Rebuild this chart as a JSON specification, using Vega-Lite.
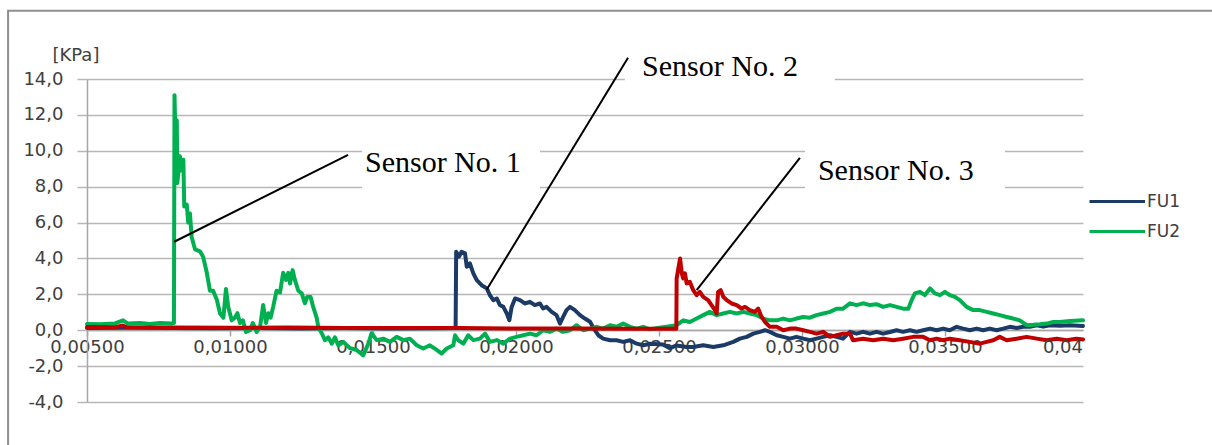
{
  "$schema": "https://vega.github.io/schema/vega-lite/v6.json",
  "width": 996,
  "height": 323,
  "autosize": {"type": "none"},
  "padding": {"left": 87, "top": 79, "right": 129, "bottom": 43},
  "background": "white",
  "config": {"view": {"stroke": null}, "font": "DejaVu Sans"},
  "datasets": {
    "series": [
      {"s":"FU1","x":0.005,"y":0.12},{"s":"FU1","x":0.0065,"y":0.14},{"s":"FU1","x":0.008,"y":0.13},{"s":"FU1","x":0.0095,"y":0.11},{"s":"FU1","x":0.011,"y":0.12},{"s":"FU1","x":0.0125,"y":0.1},{"s":"FU1","x":0.014,"y":0.12},{"s":"FU1","x":0.0155,"y":0.1},{"s":"FU1","x":0.017,"y":0.11},{"s":"FU1","x":0.01789,"y":0.12},
      {"s":"FU1","x":0.01791,"y":4.37},{"s":"FU1","x":0.01801,"y":4.1},{"s":"FU1","x":0.0181,"y":4.37},{"s":"FU1","x":0.01822,"y":4.28},{"s":"FU1","x":0.01828,"y":3.54},{"s":"FU1","x":0.01839,"y":3.72},{"s":"FU1","x":0.01851,"y":3.17},{"s":"FU1","x":0.01863,"y":2.79},{"s":"FU1","x":0.0188,"y":2.51},{"s":"FU1","x":0.01898,"y":2.33},{"s":"FU1","x":0.01909,"y":1.95},{"s":"FU1","x":0.01921,"y":1.68},{"s":"FU1","x":0.01933,"y":1.77},{"s":"FU1","x":0.01944,"y":1.4},{"s":"FU1","x":0.01956,"y":1.3},{"s":"FU1","x":0.01968,"y":0.93},{"s":"FU1","x":0.01977,"y":0.56},{"s":"FU1","x":0.01985,"y":1.3},{"s":"FU1","x":0.01997,"y":1.77},{"s":"FU1","x":0.02014,"y":1.68},{"s":"FU1","x":0.02031,"y":1.49},{"s":"FU1","x":0.02049,"y":1.58},{"s":"FU1","x":0.02066,"y":1.4},{"s":"FU1","x":0.02084,"y":1.49},{"s":"FU1","x":0.02095,"y":1.21},{"s":"FU1","x":0.02107,"y":1.3},{"s":"FU1","x":0.02125,"y":1.02},{"s":"FU1","x":0.02142,"y":0.84},{"s":"FU1","x":0.02154,"y":0.37},{"s":"FU1","x":0.02165,"y":0.74},{"s":"FU1","x":0.02177,"y":1.12},{"s":"FU1","x":0.02189,"y":1.3},{"s":"FU1","x":0.02206,"y":1.12},{"s":"FU1","x":0.02224,"y":0.84},{"s":"FU1","x":0.02241,"y":0.65},{"s":"FU1","x":0.02259,"y":0.47},{"s":"FU1","x":0.02276,"y":0.0},{"s":"FU1","x":0.02288,"y":-0.28},{"s":"FU1","x":0.02305,"y":-0.47},{"s":"FU1","x":0.02329,"y":-0.56},{"s":"FU1","x":0.02352,"y":-0.56},{"s":"FU1","x":0.02375,"y":-0.65},{"s":"FU1","x":0.02399,"y":-0.56},{"s":"FU1","x":0.02422,"y":-0.75},{"s":"FU1","x":0.02445,"y":-0.84},{"s":"FU1","x":0.02469,"y":-0.75},{"s":"FU1","x":0.02514,"y":-0.8},{"s":"FU1","x":0.02538,"y":-1.0},{"s":"FU1","x":0.02562,"y":-0.85},{"s":"FU1","x":0.02597,"y":-0.93},{"s":"FU1","x":0.0262,"y":-0.93},{"s":"FU1","x":0.02655,"y":-0.84},{"s":"FU1","x":0.0269,"y":-0.93},{"s":"FU1","x":0.02725,"y":-0.84},{"s":"FU1","x":0.0276,"y":-0.65},{"s":"FU1","x":0.02783,"y":-0.47},{"s":"FU1","x":0.02807,"y":-0.37},{"s":"FU1","x":0.0283,"y":-0.19},{"s":"FU1","x":0.02853,"y":-0.09},{"s":"FU1","x":0.02871,"y":0.0},{"s":"FU1","x":0.02888,"y":-0.09},{"s":"FU1","x":0.02912,"y":-0.28},{"s":"FU1","x":0.02935,"y":-0.37},{"s":"FU1","x":0.02958,"y":-0.47},{"s":"FU1","x":0.02981,"y":-0.37},{"s":"FU1","x":0.03005,"y":-0.47},{"s":"FU1","x":0.03028,"y":-0.56},{"s":"FU1","x":0.03051,"y":-0.47},{"s":"FU1","x":0.03075,"y":-0.37},{"s":"FU1","x":0.03098,"y":-0.28},{"s":"FU1","x":0.03121,"y":-0.37},{"s":"FU1","x":0.03144,"y":-0.47},{"s":"FU1","x":0.03168,"y":-0.09},{"s":"FU1","x":0.03191,"y":-0.19},{"s":"FU1","x":0.03214,"y":-0.09},{"s":"FU1","x":0.03238,"y":-0.19},{"s":"FU1","x":0.03261,"y":-0.09},{"s":"FU1","x":0.03284,"y":-0.19},{"s":"FU1","x":0.03308,"y":-0.1},{"s":"FU1","x":0.03331,"y":0.0},{"s":"FU1","x":0.03354,"y":-0.09},{"s":"FU1","x":0.03378,"y":0.0},{"s":"FU1","x":0.03401,"y":-0.09},{"s":"FU1","x":0.03424,"y":0.0},{"s":"FU1","x":0.03448,"y":0.09},{"s":"FU1","x":0.03471,"y":0.0},{"s":"FU1","x":0.03494,"y":0.09},{"s":"FU1","x":0.03517,"y":0.0},{"s":"FU1","x":0.03541,"y":0.19},{"s":"FU1","x":0.03564,"y":0.09},{"s":"FU1","x":0.03587,"y":0.0},{"s":"FU1","x":0.03611,"y":0.09},{"s":"FU1","x":0.03634,"y":0.0},{"s":"FU1","x":0.03657,"y":0.09},{"s":"FU1","x":0.03681,"y":0.0},{"s":"FU1","x":0.03704,"y":0.09},{"s":"FU1","x":0.03727,"y":0.19},{"s":"FU1","x":0.03751,"y":0.12},{"s":"FU1","x":0.03774,"y":0.19},{"s":"FU1","x":0.03797,"y":0.19},{"s":"FU1","x":0.03821,"y":0.28},{"s":"FU1","x":0.03844,"y":0.2},{"s":"FU1","x":0.03867,"y":0.28},{"s":"FU1","x":0.03902,"y":0.25},{"s":"FU1","x":0.03937,"y":0.28},{"s":"FU1","x":0.03983,"y":0.24},

      {"s":"FU2","x":0.005,"y":0.35},{"s":"FU2","x":0.00545,"y":0.33},{"s":"FU2","x":0.00598,"y":0.38},{"s":"FU2","x":0.00626,"y":0.55},{"s":"FU2","x":0.00643,"y":0.37},{"s":"FU2","x":0.00685,"y":0.4},{"s":"FU2","x":0.0072,"y":0.35},{"s":"FU2","x":0.00755,"y":0.4},{"s":"FU2","x":0.00797,"y":0.38},{"s":"FU2","x":0.00804,"y":0.4},
      {"s":"FU2","x":0.00806,"y":13.1},{"s":"FU2","x":0.00811,"y":9.5},{"s":"FU2","x":0.00814,"y":11.7},{"s":"FU2","x":0.00816,"y":8.2},{"s":"FU2","x":0.00825,"y":9.7},{"s":"FU2","x":0.00831,"y":8.9},{"s":"FU2","x":0.00837,"y":9.5},{"s":"FU2","x":0.0084,"y":6.9},{"s":"FU2","x":0.00849,"y":7.0},{"s":"FU2","x":0.00854,"y":6.0},{"s":"FU2","x":0.0086,"y":6.5},{"s":"FU2","x":0.00866,"y":5.2},{"s":"FU2","x":0.00878,"y":4.5},{"s":"FU2","x":0.00895,"y":4.4},{"s":"FU2","x":0.00906,"y":4.1},{"s":"FU2","x":0.00919,"y":3.2},{"s":"FU2","x":0.0093,"y":2.2},{"s":"FU2","x":0.00941,"y":2.2},{"s":"FU2","x":0.00954,"y":1.7},{"s":"FU2","x":0.00965,"y":0.95},{"s":"FU2","x":0.00977,"y":0.7},{"s":"FU2","x":0.00986,"y":2.3},{"s":"FU2","x":0.00994,"y":1.3},{"s":"FU2","x":0.01006,"y":0.55},{"s":"FU2","x":0.01017,"y":0.7},{"s":"FU2","x":0.01026,"y":0.95},{"s":"FU2","x":0.01035,"y":0.4},{"s":"FU2","x":0.01045,"y":0.55},{"s":"FU2","x":0.01056,"y":-0.1},{"s":"FU2","x":0.0107,"y":0.0},{"s":"FU2","x":0.0108,"y":0.4},{"s":"FU2","x":0.01093,"y":-0.1},{"s":"FU2","x":0.01105,"y":0.17},{"s":"FU2","x":0.01116,"y":1.4},{"s":"FU2","x":0.01126,"y":0.4},{"s":"FU2","x":0.01134,"y":0.95},{"s":"FU2","x":0.01142,"y":0.7},{"s":"FU2","x":0.01151,"y":1.3},{"s":"FU2","x":0.01163,"y":2.2},{"s":"FU2","x":0.01175,"y":2.1},{"s":"FU2","x":0.01186,"y":3.2},{"s":"FU2","x":0.01196,"y":2.8},{"s":"FU2","x":0.01204,"y":3.2},{"s":"FU2","x":0.0121,"y":2.6},{"s":"FU2","x":0.01219,"y":3.35},{"s":"FU2","x":0.01227,"y":2.8},{"s":"FU2","x":0.01239,"y":2.2},{"s":"FU2","x":0.01251,"y":2.05},{"s":"FU2","x":0.01262,"y":1.5},{"s":"FU2","x":0.0127,"y":1.85},{"s":"FU2","x":0.01282,"y":1.85},{"s":"FU2","x":0.01291,"y":1.3},{"s":"FU2","x":0.01303,"y":0.7},{"s":"FU2","x":0.01309,"y":0.17},{"s":"FU2","x":0.01321,"y":-0.17},{"s":"FU2","x":0.01332,"y":-0.55},{"s":"FU2","x":0.01344,"y":-0.4},{"s":"FU2","x":0.01356,"y":-0.75},{"s":"FU2","x":0.01367,"y":-0.4},{"s":"FU2","x":0.01379,"y":-0.85},{"s":"FU2","x":0.01396,"y":-0.65},{"s":"FU2","x":0.0142,"y":-1.0},{"s":"FU2","x":0.01443,"y":-1.1},{"s":"FU2","x":0.01466,"y":-1.4},{"s":"FU2","x":0.01484,"y":-0.75},{"s":"FU2","x":0.01495,"y":-0.17},{"s":"FU2","x":0.01513,"y":-0.55},{"s":"FU2","x":0.01536,"y":-0.47},{"s":"FU2","x":0.01559,"y":-0.65},{"s":"FU2","x":0.01583,"y":-0.37},{"s":"FU2","x":0.01606,"y":-0.55},{"s":"FU2","x":0.01629,"y":-0.47},{"s":"FU2","x":0.01653,"y":-0.84},{"s":"FU2","x":0.01676,"y":-1.02},{"s":"FU2","x":0.01699,"y":-0.84},{"s":"FU2","x":0.01723,"y":-1.1},{"s":"FU2","x":0.0174,"y":-1.3},{"s":"FU2","x":0.01758,"y":-1.02},{"s":"FU2","x":0.01781,"y":-0.84},{"s":"FU2","x":0.01787,"y":-0.28},{"s":"FU2","x":0.01798,"y":-0.55},{"s":"FU2","x":0.01816,"y":-0.75},{"s":"FU2","x":0.01833,"y":-0.28},{"s":"FU2","x":0.01851,"y":-0.55},{"s":"FU2","x":0.01874,"y":-0.47},{"s":"FU2","x":0.01892,"y":-0.19},{"s":"FU2","x":0.01909,"y":-0.65},{"s":"FU2","x":0.01933,"y":-0.55},{"s":"FU2","x":0.01956,"y":-0.75},{"s":"FU2","x":0.01979,"y":-0.47},{"s":"FU2","x":0.02002,"y":-0.37},{"s":"FU2","x":0.02026,"y":-0.28},{"s":"FU2","x":0.02049,"y":-0.19},{"s":"FU2","x":0.02072,"y":-0.28},{"s":"FU2","x":0.02095,"y":0.0},{"s":"FU2","x":0.02119,"y":-0.09},{"s":"FU2","x":0.02142,"y":0.09},{"s":"FU2","x":0.02165,"y":-0.09},{"s":"FU2","x":0.02189,"y":0.0},{"s":"FU2","x":0.02212,"y":0.28},{"s":"FU2","x":0.02235,"y":0.0},{"s":"FU2","x":0.02259,"y":0.09},{"s":"FU2","x":0.02282,"y":0.19},{"s":"FU2","x":0.02305,"y":0.09},{"s":"FU2","x":0.02329,"y":0.28},{"s":"FU2","x":0.02352,"y":0.19},{"s":"FU2","x":0.02375,"y":0.37},{"s":"FU2","x":0.02399,"y":0.19},{"s":"FU2","x":0.02422,"y":0.09},{"s":"FU2","x":0.02445,"y":0.19},{"s":"FU2","x":0.02469,"y":0.05},{"s":"FU2","x":0.02514,"y":0.17},{"s":"FU2","x":0.02562,"y":0.28},{"s":"FU2","x":0.02585,"y":0.55},{"s":"FU2","x":0.02608,"y":0.46},{"s":"FU2","x":0.02632,"y":0.65},{"s":"FU2","x":0.02655,"y":0.84},{"s":"FU2","x":0.02678,"y":1.02},{"s":"FU2","x":0.02702,"y":0.84},{"s":"FU2","x":0.02725,"y":0.93},{"s":"FU2","x":0.02748,"y":1.02},{"s":"FU2","x":0.02772,"y":0.93},{"s":"FU2","x":0.02795,"y":1.02},{"s":"FU2","x":0.02818,"y":0.93},{"s":"FU2","x":0.02842,"y":0.84},{"s":"FU2","x":0.02865,"y":0.65},{"s":"FU2","x":0.02888,"y":0.55},{"s":"FU2","x":0.02912,"y":0.55},{"s":"FU2","x":0.02935,"y":0.65},{"s":"FU2","x":0.02958,"y":0.55},{"s":"FU2","x":0.02981,"y":0.65},{"s":"FU2","x":0.03005,"y":0.74},{"s":"FU2","x":0.03028,"y":0.7},{"s":"FU2","x":0.03051,"y":0.84},{"s":"FU2","x":0.03075,"y":0.93},{"s":"FU2","x":0.03098,"y":1.02},{"s":"FU2","x":0.03121,"y":1.2},{"s":"FU2","x":0.03144,"y":1.2},{"s":"FU2","x":0.03168,"y":1.5},{"s":"FU2","x":0.03191,"y":1.4},{"s":"FU2","x":0.03214,"y":1.5},{"s":"FU2","x":0.03238,"y":1.4},{"s":"FU2","x":0.03261,"y":1.45},{"s":"FU2","x":0.03284,"y":1.3},{"s":"FU2","x":0.03308,"y":1.4},{"s":"FU2","x":0.03331,"y":1.3},{"s":"FU2","x":0.03354,"y":1.2},{"s":"FU2","x":0.03372,"y":1.2},{"s":"FU2","x":0.03384,"y":1.68},{"s":"FU2","x":0.03395,"y":2.05},{"s":"FU2","x":0.03413,"y":2.14},{"s":"FU2","x":0.0343,"y":1.96},{"s":"FU2","x":0.03448,"y":2.33},{"s":"FU2","x":0.03465,"y":2.05},{"s":"FU2","x":0.03483,"y":1.96},{"s":"FU2","x":0.035,"y":2.14},{"s":"FU2","x":0.03517,"y":1.96},{"s":"FU2","x":0.03535,"y":1.86},{"s":"FU2","x":0.03552,"y":1.68},{"s":"FU2","x":0.03576,"y":1.3},{"s":"FU2","x":0.03599,"y":1.12},{"s":"FU2","x":0.03622,"y":1.12},{"s":"FU2","x":0.03646,"y":1.02},{"s":"FU2","x":0.03669,"y":0.93},{"s":"FU2","x":0.03692,"y":0.84},{"s":"FU2","x":0.03716,"y":0.74},{"s":"FU2","x":0.03739,"y":0.65},{"s":"FU2","x":0.03762,"y":0.55},{"s":"FU2","x":0.03786,"y":0.28},{"s":"FU2","x":0.03809,"y":0.3},{"s":"FU2","x":0.03832,"y":0.33},{"s":"FU2","x":0.03856,"y":0.37},{"s":"FU2","x":0.03879,"y":0.46},{"s":"FU2","x":0.03902,"y":0.46},{"s":"FU2","x":0.03937,"y":0.52},{"s":"FU2","x":0.03983,"y":0.55},

      {"s":"FU3","x":0.005,"y":0.18},{"s":"FU3","x":0.006,"y":0.17},{"s":"FU3","x":0.00625,"y":0.26},{"s":"FU3","x":0.0064,"y":0.16},{"s":"FU3","x":0.008,"y":0.15},{"s":"FU3","x":0.01,"y":0.14},{"s":"FU3","x":0.012,"y":0.15},{"s":"FU3","x":0.014,"y":0.13},{"s":"FU3","x":0.016,"y":0.12},{"s":"FU3","x":0.018,"y":0.12},{"s":"FU3","x":0.02,"y":0.1},{"s":"FU3","x":0.022,"y":0.1},{"s":"FU3","x":0.024,"y":0.08},{"s":"FU3","x":0.02561,"y":0.08},
      {"s":"FU3","x":0.02562,"y":2.89},{"s":"FU3","x":0.02574,"y":4.0},{"s":"FU3","x":0.0258,"y":3.17},{"s":"FU3","x":0.02585,"y":2.89},{"s":"FU3","x":0.02591,"y":3.17},{"s":"FU3","x":0.02597,"y":2.61},{"s":"FU3","x":0.02608,"y":2.7},{"s":"FU3","x":0.0262,"y":2.23},{"s":"FU3","x":0.02632,"y":1.95},{"s":"FU3","x":0.02643,"y":2.14},{"s":"FU3","x":0.02655,"y":1.86},{"s":"FU3","x":0.02672,"y":1.68},{"s":"FU3","x":0.02684,"y":1.4},{"s":"FU3","x":0.02696,"y":1.12},{"s":"FU3","x":0.02702,"y":0.93},{"s":"FU3","x":0.02707,"y":2.14},{"s":"FU3","x":0.02716,"y":2.23},{"s":"FU3","x":0.02725,"y":1.86},{"s":"FU3","x":0.02737,"y":1.68},{"s":"FU3","x":0.02754,"y":1.49},{"s":"FU3","x":0.02772,"y":1.4},{"s":"FU3","x":0.02789,"y":1.21},{"s":"FU3","x":0.02801,"y":1.3},{"s":"FU3","x":0.02818,"y":1.12},{"s":"FU3","x":0.02836,"y":1.02},{"s":"FU3","x":0.02847,"y":1.21},{"s":"FU3","x":0.02859,"y":0.74},{"s":"FU3","x":0.02871,"y":0.46},{"s":"FU3","x":0.02888,"y":0.19},{"s":"FU3","x":0.02912,"y":0.19},{"s":"FU3","x":0.02935,"y":0.0},{"s":"FU3","x":0.02958,"y":0.09},{"s":"FU3","x":0.02981,"y":0.09},{"s":"FU3","x":0.03005,"y":0.0},{"s":"FU3","x":0.03028,"y":-0.09},{"s":"FU3","x":0.03051,"y":-0.19},{"s":"FU3","x":0.03075,"y":-0.09},{"s":"FU3","x":0.03098,"y":-0.37},{"s":"FU3","x":0.03121,"y":-0.28},{"s":"FU3","x":0.03144,"y":-0.19},{"s":"FU3","x":0.03168,"y":-0.19},{"s":"FU3","x":0.03179,"y":-0.56},{"s":"FU3","x":0.03214,"y":-0.47},{"s":"FU3","x":0.03249,"y":-0.56},{"s":"FU3","x":0.03284,"y":-0.47},{"s":"FU3","x":0.03319,"y":-0.56},{"s":"FU3","x":0.03354,"y":-0.47},{"s":"FU3","x":0.03389,"y":-0.37},{"s":"FU3","x":0.03424,"y":-0.37},{"s":"FU3","x":0.03448,"y":-0.56},{"s":"FU3","x":0.03471,"y":-0.47},{"s":"FU3","x":0.03494,"y":-0.56},{"s":"FU3","x":0.03517,"y":-0.47},{"s":"FU3","x":0.03552,"y":-0.56},{"s":"FU3","x":0.03587,"y":-0.65},{"s":"FU3","x":0.03622,"y":-0.75},{"s":"FU3","x":0.03646,"y":-0.65},{"s":"FU3","x":0.03669,"y":-0.56},{"s":"FU3","x":0.03692,"y":-0.37},{"s":"FU3","x":0.03716,"y":-0.56},{"s":"FU3","x":0.03751,"y":-0.47},{"s":"FU3","x":0.03786,"y":-0.37},{"s":"FU3","x":0.03821,"y":-0.47},{"s":"FU3","x":0.03856,"y":-0.56},{"s":"FU3","x":0.03891,"y":-0.47},{"s":"FU3","x":0.03926,"y":-0.56},{"s":"FU3","x":0.0396,"y":-0.47},{"s":"FU3","x":0.03983,"y":-0.52}
    ],
    "labels": [
      {"label":"Sensor No. 1","x":0.01472,"y":8.82},
      {"label":"Sensor No. 2","x":0.02441,"y":14.19},
      {"label":"Sensor No. 3","x":0.03056,"y":8.38}
    ],
    "tail": [
      {"label":"0,04","x":0.03983,"y":-0.5}
    ],
    "leaders": [
      {"x":0.01413,"y":9.77,"x2":0.00805,"y2":4.93},
      {"x":0.02392,"y":15.19,"x2":0.01898,"y2":2.27},
      {"x":0.02993,"y":9.61,"x2":0.02632,"y2":2.23}
    ],
    "boxes": [
      {"x":0.01462,"x2":0.02084,"y":10.61,"y2":7.37},
      {"x":0.02381,"x2":0.03115,"y":16.08,"y2":12.85},
      {"x":0.03011,"x2":0.0371,"y":10.61,"y2":7.37}
    ],
    "frame": [
      {"x":0.00224,"x2":0.07,"y":17.8,"y2":-7}
    ]
  },
  "encoding": {
    "x": {
      "field": "x", "type": "quantitative",
      "scale": {"domain": [0.005, 0.03983], "nice": false, "zero": false},
      "axis": {
        "values": [0.005, 0.01, 0.015, 0.02, 0.025, 0.03, 0.035],
        "labelExpr": "replace(format(datum.value, '.5f'), '.', ',')",
        "offset": -72, "grid": false, "title": null,
        "domainColor": "#a6a6a6", "domainWidth": 1.5,
        "tickColor": "#a6a6a6", "tickSize": 6, "tickWidth": 1.5,
        "labelFont": "DejaVu Sans", "labelFontSize": 18, "labelColor": "#404040",
        "labelPadding": 2, "labelFlush": false, "labelOverlap": false
      }
    },
    "y": {
      "field": "y", "type": "quantitative",
      "scale": {"domain": [-4, 14], "nice": false, "zero": false},
      "axis": {
        "values": [-4, -2, 0, 2, 4, 6, 8, 10, 12, 14],
        "labelExpr": "replace(replace(format(datum.value, '.1f'), '.', ','), '\u2212', '-')",
        "labelOverlap": false,
        "grid": true, "gridColor": "#b7b7b7", "gridWidth": 1.5,
        "domainColor": "#a6a6a6", "domainWidth": 1.5,
        "tickColor": "#b7b7b7", "tickSize": 10, "tickWidth": 1.5,
        "labelFont": "DejaVu Sans", "labelFontSize": 18, "labelColor": "#404040",
        "labelPadding": 14,
        "title": "[KPa]", "titleAngle": 0, "titleX": -35, "titleY": -24,
        "titleAlign": "left", "titleBaseline": "middle",
        "titleFont": "DejaVu Sans", "titleFontSize": 18, "titleFontWeight": "normal", "titleColor": "#404040"
      }
    }
  },
  "layer": [
    {
      "data": {"name": "series"},
      "mark": {"type": "line", "strokeWidth": 4, "strokeJoin": "round", "strokeCap": "round"},
      "encoding": {
        "color": {
          "field": "s", "type": "nominal",
          "scale": {"domain": ["FU1", "FU2", "FU3"], "range": ["#1b3a65", "#00b050", "#c00000"]},
          "legend": {
            "values": ["FU1", "FU2"], "orient": "none", "legendX": 1001, "legendY": 106,
            "title": null, "symbolType": "M-1,0H2.7", "symbolSize": 900, "symbolStrokeWidth": 3,
            "rowPadding": 5,
            "labelFont": "DejaVu Sans", "labelFontSize": 17, "labelColor": "#404040", "labelOffset": 26
          }
        }
      }
    },
    {
      "data": {"name": "frame"},
      "mark": {"type": "rect", "fill": "transparent", "stroke": "#8f8f8f", "strokeWidth": 2},
      "encoding": {
        "x2": {"field": "x2"},
        "y2": {"field": "y2"}
      }
    },
    {
      "data": {"name": "boxes"},
      "mark": {"type": "rect", "fill": "white", "stroke": null},
      "encoding": {
        "x2": {"field": "x2"},
        "y2": {"field": "y2"}
      }
    },
    {
      "data": {"name": "leaders"},
      "mark": {"type": "rule", "color": "black", "strokeWidth": 2},
      "encoding": {
        "x2": {"field": "x2"},
        "y2": {"field": "y2"}
      }
    },
    {
      "data": {"name": "labels"},
      "mark": {"type": "text", "font": "Liberation Serif", "fontSize": 30, "align": "left", "baseline": "alphabetic", "color": "black"},
      "encoding": {
        "text": {"field": "label"}
      }
    },
    {
      "data": {"name": "tail"},
      "mark": {"type": "text", "font": "DejaVu Sans", "fontSize": 18, "align": "right", "baseline": "top", "color": "#404040"},
      "encoding": {
        "text": {"field": "label"}
      }
    }
  ]
}
